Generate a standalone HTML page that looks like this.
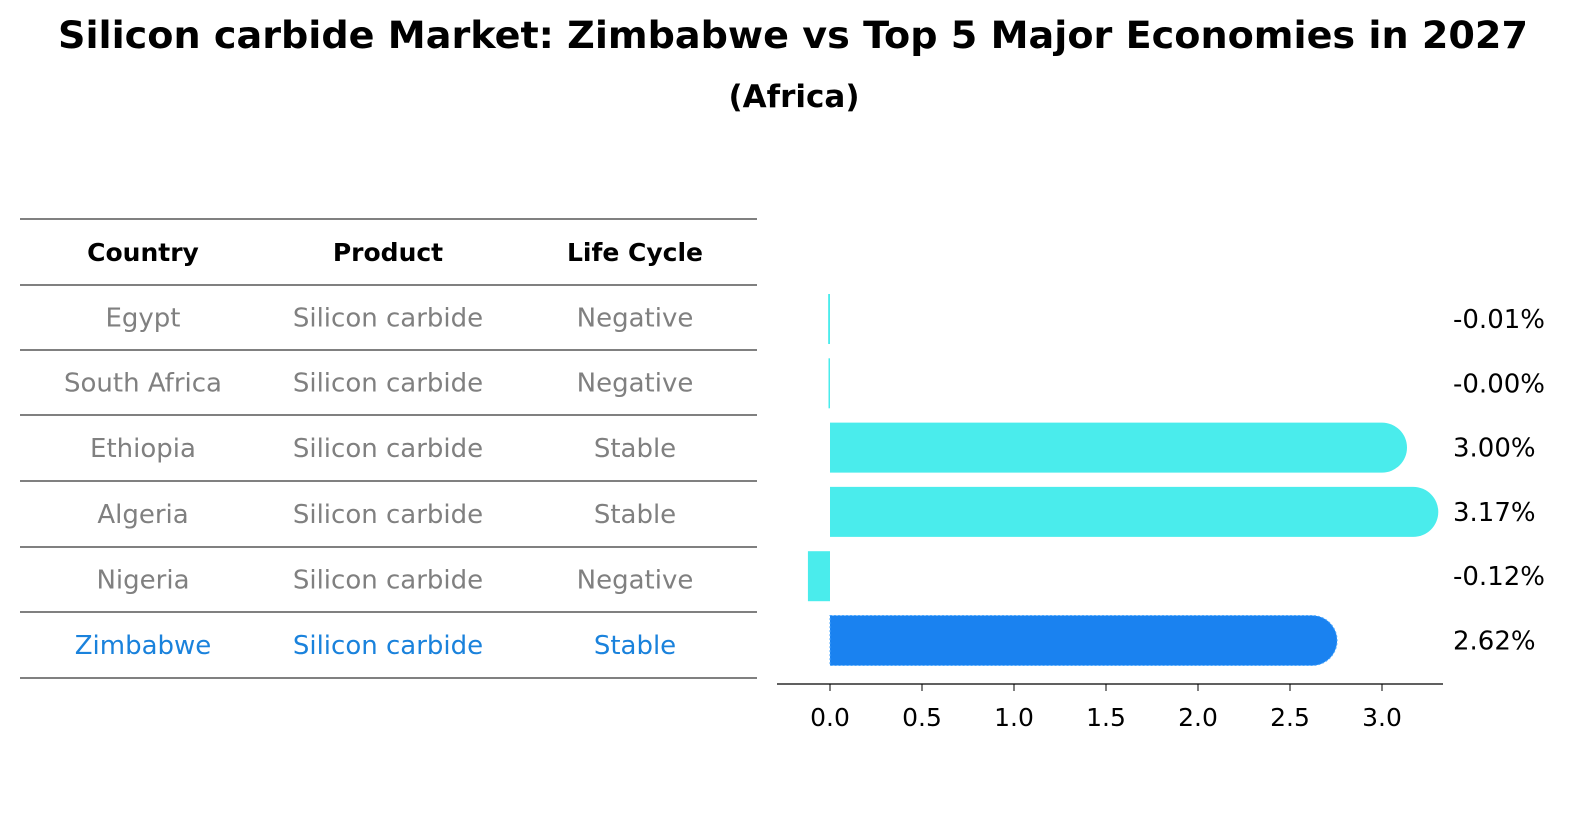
<!DOCTYPE html>
<html><head><meta charset="utf-8"><style>
body{margin:0;background:#fff;font-family:"Liberation Sans","DejaVu Sans",sans-serif}
</style></head><body>
<svg id="c" width="1596" height="823" xmlns="http://www.w3.org/2000/svg" font-family="DejaVu Sans, Liberation Sans, sans-serif">
<text x="793" y="48" text-anchor="middle" font-size="37" font-weight="bold" textLength="1470" lengthAdjust="spacingAndGlyphs">Silicon carbide Market: Zimbabwe vs Top 5 Major Economies in 2027</text>
<text x="794" y="107" text-anchor="middle" font-size="31" font-weight="bold">(Africa)</text>
<g id="tbl"></g>
<g id="bars"></g>
</svg>
<script>
const countries=["Egypt","South Africa","Ethiopia","Algeria","Nigeria","Zimbabwe"];
const products=["Silicon carbide","Silicon carbide","Silicon carbide","Silicon carbide","Silicon carbide","Silicon carbide"];
const lifeCycles=["Negative","Negative","Stable","Stable","Negative","Stable"];
const values=[-0.01,-0.001,3.00,3.17,-0.12,2.62];
const valueLabels=["-0.01%","-0.00%","3.00%","3.17%","-0.12%","2.62%"];
const ticks=[0,0.5,1.0,1.5,2.0,2.5,3.0];
const NS="http://www.w3.org/2000/svg";
function mk(p,t,a,txt){const e=document.createElementNS(NS,t);for(const k in a)e.setAttribute(k,a[k]);if(txt!==undefined)e.textContent=txt;p.appendChild(e);return e;}
const tbl=document.getElementById('tbl');
const lines=[219,285,350,415,481,547,612,678];
lines.forEach(y=>{const l=mk(tbl,'line',{x1:20,x2:757,y1:y,y2:y,stroke:'#000','stroke-width':1});

});
const cx=[143,388,635];
["Country","Product","Life Cycle"].forEach((h,i)=>{const t=mk(tbl,'text',{x:cx[i],y:261,'text-anchor':'middle','font-size':25,'font-weight':'bold'},h);

});
countries.forEach((c,r)=>{const y=(lines[r+1]+lines[r+2])/2+9;const col=r===5?'#1a82dc':'#808080';
[c,products[r],lifeCycles[r]].forEach((v,i)=>{const t=mk(tbl,'text',{x:cx[i],y:y,'text-anchor':'middle','font-size':26,fill:col},v);

});});
const g=document.getElementById('bars');
const x=v=>830+v*184;
const rowY=r=>319+r*64.3;
const bh=50;
values.forEach((v,r)=>{const yc=rowY(r);const col=r===5?'#1a82f0':'#4aecec';
let el;
if(v>0){const x0=x(0),x1=x(v),rad=bh/2;
el=mk(g,'path',{d:`M${x0},${yc-rad}H${x1}A${rad},${rad} 0 0 1 ${x1},${yc+rad}H${x0}Z`,fill:col});
if(r===5){el.setAttribute('stroke','#4aa8ff');el.setAttribute('stroke-dasharray','2,2');}}
else{const w=Math.max(x(0)-x(v),1.5);el=mk(g,'rect',{x:x(0)-w,y:yc-bh/2,width:w,height:bh,fill:col});}


const t=mk(g,'text',{x:1453,y:yc+9,'font-size':26},valueLabels[r]);

});
const ax=mk(g,'line',{x1:777,x2:1443,y1:684,y2:684,stroke:'#000','stroke-width':1.2});


ticks.forEach(v=>{const tl=mk(g,'line',{x1:x(v),x2:x(v),y1:684,y2:691,stroke:'#000'});


const t=mk(g,'text',{x:x(v),y:726,'text-anchor':'middle','font-size':25},v.toFixed(1));

});
</script>
</body></html>
